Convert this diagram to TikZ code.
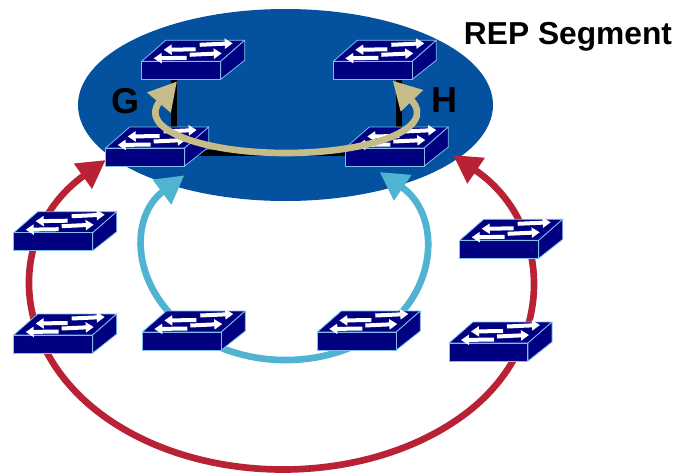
\documentclass[tikz,border=0pt]{standalone}
\usepackage{fontspec}
\setmainfont{Liberation Sans}
\usetikzlibrary{shapes.geometric}
\usetikzlibrary{arrows.meta}
\usetikzlibrary{backgrounds}
\definecolor{segblue}{HTML}{04519F}
\definecolor{swnavy}{HTML}{000080}
\definecolor{swedge}{HTML}{7FBFEE}
\definecolor{ringred}{HTML}{B82234}
\definecolor{ringblue}{HTML}{4FB3D1}
\definecolor{ringtan}{HTML}{C6BC89}
\tikzset{
    segment/.style = {ellipse, fill=segblue, minimum width=311.25pt, minimum height=144pt, inner sep=0pt},
    swfront/.style = {rectangle, fill=swnavy, draw=swedge, line width=0.6pt, minimum width=59pt, minimum height=13.5pt, inner sep=0pt, outer sep=0pt},
    swface/.style = {fill=swnavy, draw=swedge, line width=0.6pt, line join=round},
    swarrow/.style = {-{Triangle[length=6pt,width=7.5pt]}, white, line width=3pt},
    ring/.style = {{Triangle[length=21pt,width=22pt]}-{Triangle[length=21pt,width=22pt]}, line width=5pt},
    ringr/.style = {ring, ringred},
    ringb/.style = {ring, ringblue},
    ringt/.style = {ring, ringtan},
    link/.style = {line width=4.5pt, black},
    letter/.style = {font=\bfseries\fontsize{27}{27}\selectfont, inner sep=0pt},
    title/.style = {font=\bfseries\fontsize{23.8}{24}\selectfont, inner sep=0pt}
}
% name, then x and y of the lower left corner of the front
\newcommand{\swbox}[3]{
\begin{scope}[shift={(#2,#3)}]
\draw[swface] (0,-18) -- (24,-39) -- (103,-39) -- (79,-18) -- cycle;
\draw[swface] (79,0) -- (79,-18) -- (103,-39) -- (103,-19) -- cycle;
\node[swfront, anchor=south west] at (0,0) (#1) {};
\draw[swarrow] (54,-30) -- (22,-29.5);
\draw[swarrow] (58,-34.5) -- (91,-36);
\draw[swarrow] (45,-21.5) -- (12,-21);
\draw[swarrow] (48,-24.5) -- (80,-26);
\end{scope}
}

\begin{document}
\begin{tikzpicture}[x=0.75pt,y=-0.75pt]
\useasboundingbox (0,0) rectangle (677,475);
\begin{scope}[on background layer]
\node[segment] at (285.5,105) (seg) {};
\end{scope}
%
\swbox{sa}{141.7}{79.3}
\swbox{sb}{333.3}{79.3}
\swbox{sc}{105.7}{166}
\swbox{sd}{345.3}{166}
\swbox{se}{13.7}{250.7}
\swbox{sf}{13.7}{353}
\swbox{sg}{142.3}{350}
\swbox{sh}{317.3}{350}
\swbox{si}{459.7}{258.3}
\swbox{sj}{449}{361}
%
\coordinate (rl) at ([yshift=-2.25pt]sc.west);
\coordinate (ra) at (105,417);
\coordinate (rb) at (461,417);
\coordinate (rr) at (453,155);
\coordinate (bl) at ([yshift=-7pt]sc.south east);
\coordinate (ba) at (187,328.7);
\coordinate (bb) at (384,328.7);
\coordinate (br) at ([xshift=-3.75pt,yshift=-4.5pt]sd.south);
\coordinate (tl) at ([xshift=-3pt,yshift=-1.5pt]sa.south);
\coordinate (tb) at (286,153);
\coordinate (tr) at ([xshift=15pt,yshift=-1pt]sb.south);
\coordinate (gt) at ([xshift=-5pt]sa.south);
\coordinate (ht) at ([xshift=19.5pt]sb.south);
\coordinate (gb) at (gt |- tb);
\coordinate (hb) at (ht |- tb);
%
\begin{scope}[on background layer]
\draw[ringr] (rl) .. controls +(-98,70) and +(-98,-70) .. (ra) .. controls +(98,70) and +(-98,70) .. (rb) .. controls +(98,-70) and +(100,68) .. (rr);
\draw[ringb] (bl) .. controls +(-55.7,41.8) and +(-55.7,-41.8) .. (ba) .. controls +(55.7,41.8) and +(-55.7,41.8) .. (bb) .. controls +(55.7,-41.8) and +(60,41) .. (br);
\draw[link] (gt) -- (gb) -- (hb) -- (ht);
\end{scope}
\draw[ringt] (tl) .. controls +(-40,47) and +(-86,0) .. (tb) .. controls +(84,0) and +(46,48) .. (tr);
%
\node[letter] at (125,101) (g) {G};
\node[letter] at (444,100) (h) {H};
\node[title] at (568,37) (rep) {REP Segment};
\end{tikzpicture}
\end{document}
